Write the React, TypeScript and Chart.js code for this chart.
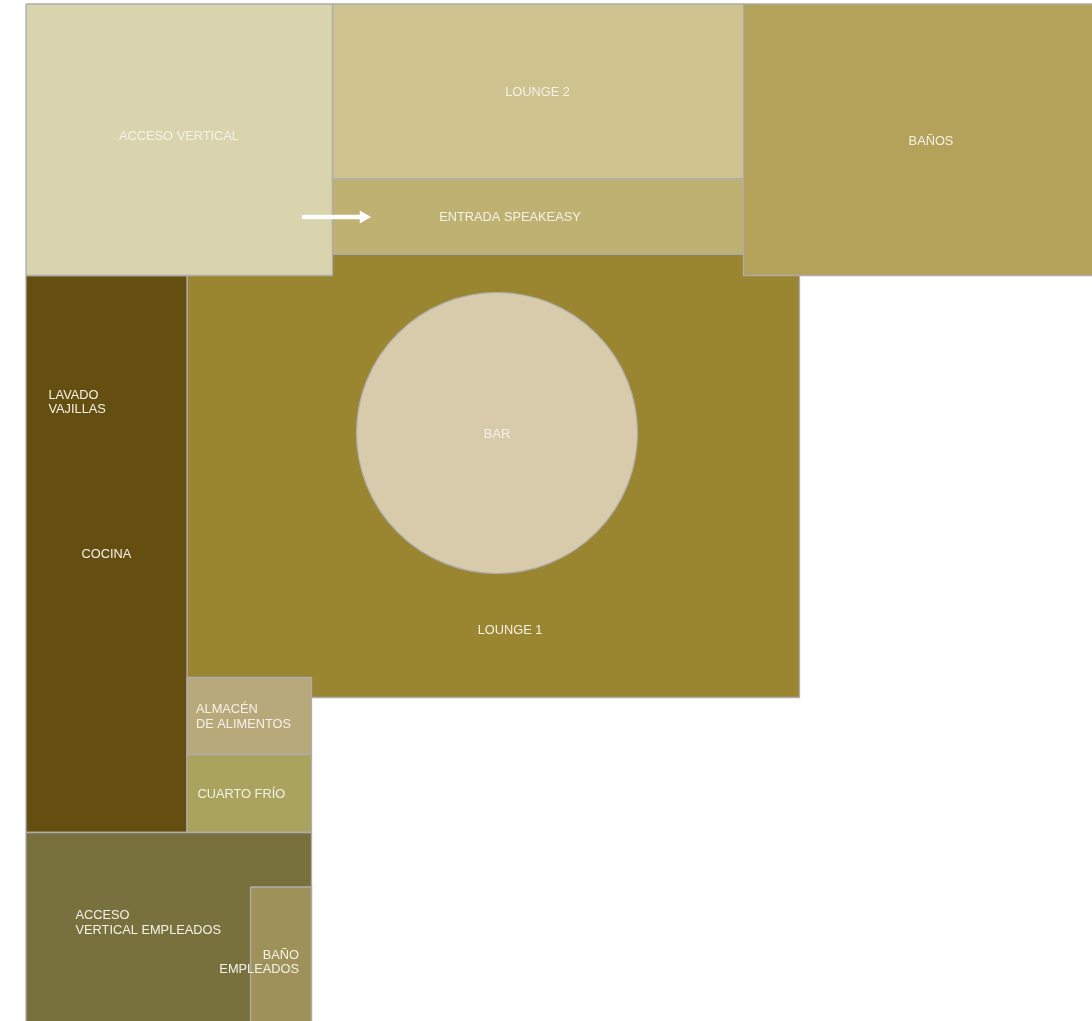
import React, { useEffect, useRef } from "react";
import { Chart, registerables } from "chart.js";

Chart.register(...registerables);

// Rooms, in plan units, back to front
const roomNames = ["LOUNGE 1", "COCINA", "ALMACEN", "CUARTO FRIO", "ACCESO EMPLEADOS", "BANO EMPLEADOS", "ACCESO VERTICAL", "LOUNGE 2", "ENTRADA", "BANOS"];
const roomLeft = [187, 26, 187, 187, 26, 250.5, 26, 332.5, 332.5, 743.5];
const roomTop = [254, 275.5, 677.5, 754.5, 832.5, 887, 4, 4, 179, 4];
const roomRight = [799.5, 187, 311.5, 311.5, 311.5, 311.5, 332.5, 743.5, 743.5, 1096];
const roomBottom = [697.5, 832.5, 754.5, 832.5, 1025, 1025, 275.5, 179, 254, 275.5];
const roomColors = ["#9A8630", "#654F10", "#B8A97A", "#A9A35E", "#78703D", "#9E925A", "#D9D3AE", "#CEC28F", "#BFB172", "#B4A25A"];

// Bar (round room)
const barCentre = { x: 497, y: 433 };
const barRadius = 140.5;
const barColor = "#D8CBAC";

// Entry arrow
const arrowStart = { x: 304, y: 217 };
const arrowEnd = { x: 363.5, y: 217 };

// Labels
const labelText = [
  ["ACCESO VERTICAL"], ["LOUNGE 2"], ["BAÑOS"], ["ENTRADA SPEAKEASY"], ["LAVADO", "VAJILLAS"], ["COCINA"], ["BAR"], ["LOUNGE 1"],
  ["ALMACÉN", "DE ALIMENTOS"], ["CUARTO FRÍO"], ["ACCESO", "VERTICAL EMPLEADOS"], ["BAÑO", "EMPLEADOS"],
];
const labelX = [179, 537.5, 931, 510, 48.5, 106.5, 497, 510, 196, 197.5, 75.5, 299];
const labelY = [136.2, 92.2, 141.2, 217.2, 395.2, 554.2, 434.2, 630.2, 709.4, 794.2, 915.4, 955.2];
const labelAlign = ["center", "center", "center", "center", "left", "center", "center", "center", "left", "left", "left", "right"];

const BORDER = "#ADADAD";
const TEXT = "#F4F2E8";

const labelPlugin = {
  id: "planLabels",
  afterDatasetsDraw(chart: any) {
    const { ctx, scales } = chart;
    ctx.save();
    ctx.font = '12.8px "Liberation Sans", Arial, sans-serif';
    ctx.fillStyle = TEXT;
    ctx.textBaseline = "middle";
    labelText.forEach((lines, i) => {
      ctx.textAlign = labelAlign[i];
      lines.forEach((line, j) => {
        ctx.fillText(line, scales.x.getPixelForValue(labelX[i]), scales.y.getPixelForValue(labelY[i] + j * 14.6));
      });
    });
    ctx.restore();
  },
};

export default function App() {
  const ref = useRef<HTMLCanvasElement | null>(null);
  useEffect(() => {
    document.body.style.margin = "0";
    const roomSets = roomNames.map((name, i) => ({
      type: "scatter" as const,
      label: name,
      data: [
        { x: roomLeft[i], y: roomTop[i] },
        { x: roomRight[i], y: roomTop[i] },
        { x: roomRight[i], y: roomBottom[i] },
        { x: roomLeft[i], y: roomBottom[i] },
        { x: roomLeft[i], y: roomTop[i] },
      ],
      showLine: true,
      fill: "shape",
      tension: 0,
      backgroundColor: roomColors[i],
      borderColor: BORDER,
      borderWidth: 1.3,
      pointRadius: 0,
      pointHoverRadius: 0,
      order: 100 - i,
    }));
    const chart = new Chart(ref.current!, {
      type: "scatter",
      data: {
        datasets: [
          ...roomSets,
          {
            label: "BAR",
            data: [barCentre],
            pointStyle: "circle",
            pointRadius: barRadius,
            pointHoverRadius: barRadius,
            backgroundColor: barColor,
            borderColor: BORDER,
            borderWidth: 1.2,
            order: 2,
          },
          {
            label: "ENTRADA",
            data: [arrowStart, arrowEnd],
            showLine: true,
            borderColor: "#FFFFFF",
            backgroundColor: "#FFFFFF",
            borderWidth: 4.6,
            borderCapStyle: "round",
            pointStyle: "triangle",
            pointRotation: 90,
            pointRadius: [0, 7.5],
            pointBorderWidth: 0,
            order: 1,
          },
        ] as any,
      },
      options: {
        animation: false,
        responsive: false,
        events: [],
        layout: { padding: 0, autoPadding: false },
        plugins: { legend: { display: false }, tooltip: { enabled: false } },
        scales: {
          x: { type: "linear", display: false, min: 0, max: 1092 },
          y: { type: "linear", display: false, min: 0, max: 1021, reverse: true },
        },
      },
      plugins: [labelPlugin],
    } as any);
    return () => chart.destroy();
  }, []);
  return <canvas ref={ref} width={1092} height={1021} style={{ display: "block", width: 1092, height: 1021 }} />;
}
